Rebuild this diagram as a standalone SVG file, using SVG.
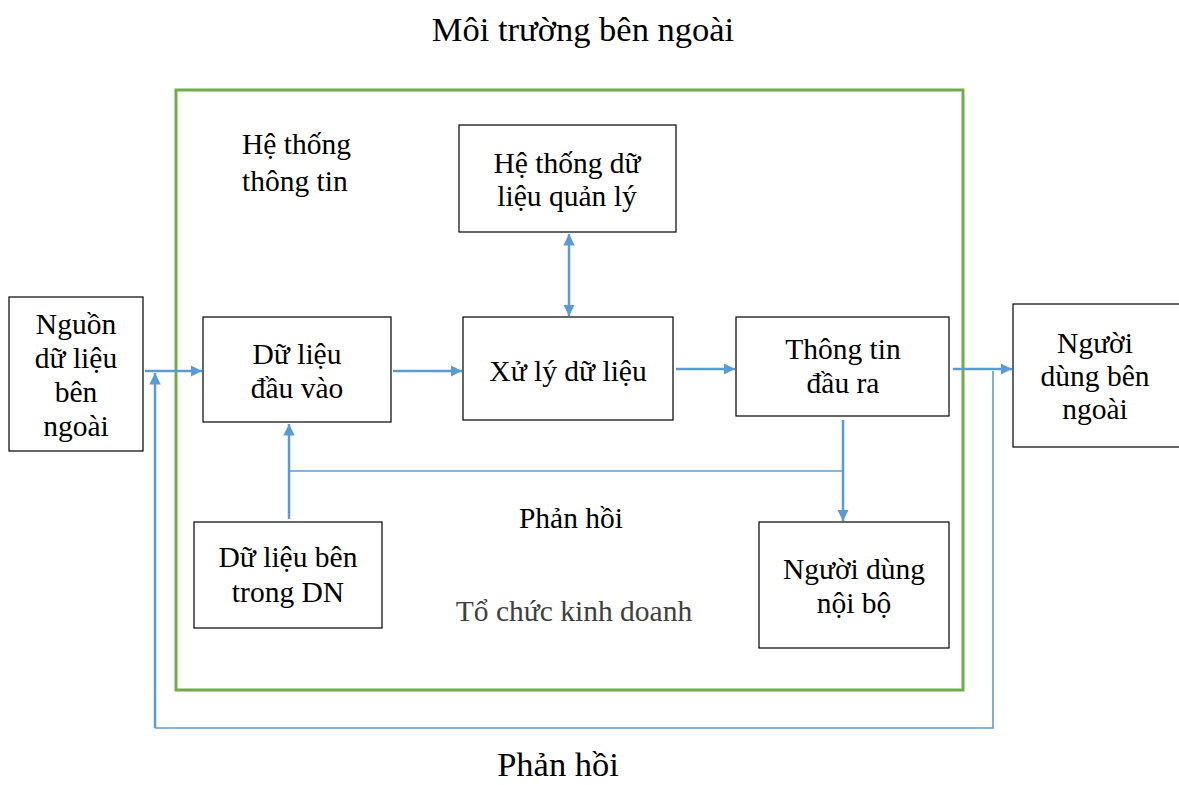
<svg xmlns="http://www.w3.org/2000/svg" width="1179" height="785" viewBox="0 0 1179 785">
  <defs>
    <style>
      .box { fill: #fff; stroke: #000; stroke-width: 1.2; }
      .t { font-family: "Liberation Serif", "Times New Roman", serif; font-size: 29.5px; fill: #000; text-anchor: middle; }
      .big { font-size: 34.5px; }
      .start { text-anchor: start; }
      .flow { stroke: #5B9BD5; stroke-width: 2.5; fill: none; }
      .thin { stroke: #5B9BD5; stroke-width: 1.6; fill: none; }
    </style>
    <marker id="ah" viewBox="0 0 10 10" refX="10" refY="5" markerWidth="4.6" markerHeight="4.6" orient="auto-start-reverse" markerUnits="strokeWidth">
      <path d="M0,0 L10,5 L0,10 z" fill="#5B9BD5"/>
    </marker>
  </defs>
  <rect width="1179" height="785" fill="#fff"/>

  <!-- environment and organisation frame -->
  <text class="t big" x="583" y="41">Môi trường bên ngoài</text>
  <rect id="org" x="176" y="90" width="787" height="600" fill="none" stroke="#70AD47" stroke-width="3"/>
  <text class="t start" x="242" y="154">Hệ thống</text>
  <text class="t start" x="242" y="191">thông tin</text>
  <text class="t" x="571" y="528">Phản hồi</text>
  <text class="t" x="574" y="621" style="fill:#404040">Tổ chức kinh doanh</text>
  <text class="t big" x="558" y="776">Phản hồi</text>

  <!-- connectors -->
  <g id="connectors">
    <line class="flow" x1="145" y1="371" x2="202" y2="371" marker-end="url(#ah)"/>
    <polyline class="thin" points="155,728 993,728 993,371"/>
    <line class="flow" x1="155" y1="728" x2="155" y2="373" marker-end="url(#ah)"/>
    <line class="flow" x1="393" y1="371" x2="462" y2="371" marker-end="url(#ah)"/>
    <line class="flow" x1="676" y1="369" x2="735" y2="369" marker-end="url(#ah)"/>
    <line class="flow" x1="953" y1="369" x2="1012" y2="369" marker-end="url(#ah)"/>
    <line class="flow" x1="569" y1="234" x2="569" y2="316" marker-start="url(#ah)" marker-end="url(#ah)"/>
    <line class="flow" x1="289" y1="519" x2="289" y2="424" marker-end="url(#ah)"/>
    <line class="thin" x1="289" y1="471" x2="843" y2="471"/>
    <line class="flow" x1="843" y1="420" x2="843" y2="521" marker-end="url(#ah)"/>
  </g>

  <!-- nodes -->
  <g id="external-source">
    <rect class="box" x="9" y="297" width="134" height="154"/>
    <text class="t" x="76" y="334">Nguồn</text>
    <text class="t" x="76" y="368">dữ liệu</text>
    <text class="t" x="76" y="402">bên</text>
    <text class="t" x="76" y="436">ngoài</text>
  </g>
  <g id="input-data">
    <rect class="box" x="203" y="317" width="188" height="105"/>
    <text class="t" x="297" y="364">Dữ liệu</text>
    <text class="t" x="297" y="398">đầu vào</text>
  </g>
  <g id="processing">
    <rect class="box" x="463" y="317" width="210" height="103"/>
    <text class="t" x="568" y="381">Xử lý dữ liệu</text>
  </g>
  <g id="output-info">
    <rect class="box" x="736" y="317" width="213" height="99"/>
    <text class="t" x="843" y="359">Thông tin</text>
    <text class="t" x="843" y="393">đầu ra</text>
  </g>
  <g id="external-users">
    <rect class="box" x="1013" y="304" width="170" height="143"/>
    <text class="t" x="1095" y="353">Người</text>
    <text class="t" x="1095" y="386">dùng bên</text>
    <text class="t" x="1095" y="419">ngoài</text>
  </g>
  <g id="mis-data">
    <rect class="box" x="459" y="125" width="217" height="107"/>
    <text class="t" x="567" y="173">Hệ thống dữ</text>
    <text class="t" x="567" y="206">liệu quản lý</text>
  </g>
  <g id="internal-data">
    <rect class="box" x="194" y="522" width="188" height="106"/>
    <text class="t" x="288" y="567">Dữ liệu bên</text>
    <text class="t" x="288" y="602">trong DN</text>
  </g>
  <g id="internal-users">
    <rect class="box" x="759" y="522" width="190" height="126"/>
    <text class="t" x="854" y="579">Người dùng</text>
    <text class="t" x="854" y="613">nội bộ</text>
  </g>
</svg>
